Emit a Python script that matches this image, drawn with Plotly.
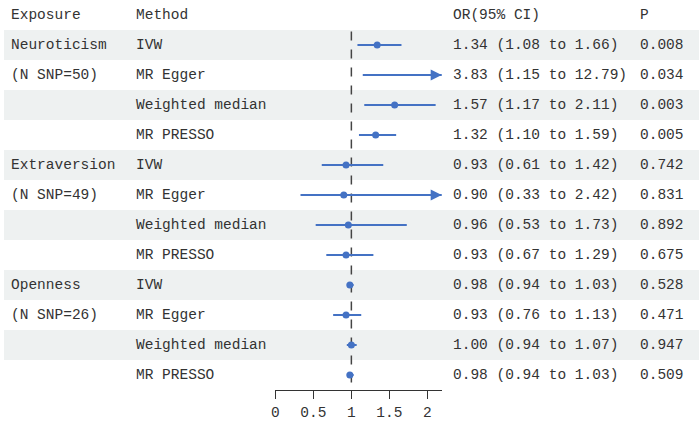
import plotly.graph_objects as go

exposures = ["Neuroticism", "(N SNP=50)", "", "",
             "Extraversion", "(N SNP=49)", "", "",
             "Openness", "(N SNP=26)", "", ""]
methods = ["IVW", "MR Egger", "Weighted median", "MR PRESSO"] * 3
or_vals = [1.34, 3.83, 1.57, 1.32, 0.93, 0.90, 0.96, 0.93, 0.98, 0.93, 1.00, 0.98]
ci_low = [1.08, 1.15, 1.17, 1.10, 0.61, 0.33, 0.53, 0.67, 0.94, 0.76, 0.94, 0.94]
ci_high = [1.66, 12.79, 2.11, 1.59, 1.42, 2.42, 1.73, 1.29, 1.03, 1.13, 1.07, 1.03]
p_vals = ["0.008", "0.034", "0.003", "0.005", "0.742", "0.831", "0.892", "0.675",
          "0.528", "0.471", "0.947", "0.509"]
tick_vals = [0, 0.5, 1, 1.5, 2]
tick_text = ["0", "0.5", "1", "1.5", "2"]

X_MAX = 2.2
W, H = 699, 425
FONT = "Liberation Mono"
FS = 14.5
TXT = "#333333"
BLUE = "#4472c4"

fig = go.Figure()
n = len(methods)

# CI lines
for i in range(n):
    hi = min(ci_high[i], X_MAX - 0.01)
    fig.add_trace(go.Scatter(x=[ci_low[i], hi], y=[i, i], mode="lines",
                             line=dict(color=BLUE, width=2), showlegend=False,
                             hoverinfo="skip"))
    if ci_high[i] > X_MAX:
        fig.add_annotation(x=X_MAX - 0.01, y=i, ax=-12, ay=0, xref="x", yref="y",
                           showarrow=True, arrowhead=2,
                           arrowsize=1.1, arrowwidth=2, arrowcolor=BLUE, text="")

px = [v for v in or_vals if v <= X_MAX]
py = [i for i, v in enumerate(or_vals) if v <= X_MAX]
fig.add_trace(go.Scatter(x=px, y=py, mode="markers",
                         marker=dict(color=BLUE, size=7), showlegend=False))

# shading
shapes = []
for i in range(0, n, 2):
    shapes.append(dict(type="rect", xref="paper", yref="y", x0=0, x1=1,
                       y0=i - 0.5, y1=i + 0.5, fillcolor="#eef1f1",
                       line=dict(width=0), layer="below"))
shapes.append(dict(type="line", xref="x", yref="y", x0=1, x1=1, y0=-0.45, y1=n - 0.5,
                   line=dict(color="#444444", width=1.5, dash="dash"), layer="below"))

ann = []
def txt(xp, row, s):
    ann.append(dict(x=xp / W, y=row, xref="paper", yref="y", text=s, showarrow=False,
                    xanchor="left", yanchor="middle", font=dict(family=FONT, size=FS, color=TXT)))

txt(5, -1, "Exposure")
txt(131, -1, "Method")
txt(450, -1, "OR(95% CI)")
txt(638, -1, "P")
for i in range(n):
    if exposures[i]:
        txt(5, i, exposures[i])
    txt(131, i, methods[i])
    txt(450, i, f"{or_vals[i]:.2f} ({ci_low[i]:.2f} to {ci_high[i]:.2f})")
    txt(638, i, p_vals[i])

for a in ann:
    fig.add_annotation(**a)

fig.update_layout(
    width=W, height=H, margin=dict(l=0, r=0, t=0, b=0),
    paper_bgcolor="white", plot_bgcolor="rgba(0,0,0,0)",
    shapes=shapes,
    xaxis=dict(domain=[273 / W, 441 / W], range=[0, X_MAX], showgrid=False, zeroline=False,
               showline=True, linecolor="#333333", linewidth=1.2, ticks="outside",
               ticklen=8, tickcolor="#333333", tickwidth=1.2,
               tickvals=tick_vals, ticktext=tick_text,
               tickfont=dict(family=FONT, size=FS, color=TXT)),
    yaxis=dict(domain=[1 - 390 / H, 1], range=[n - 0.5, -1.5], visible=False),
)

fig.write_html("out.html")
